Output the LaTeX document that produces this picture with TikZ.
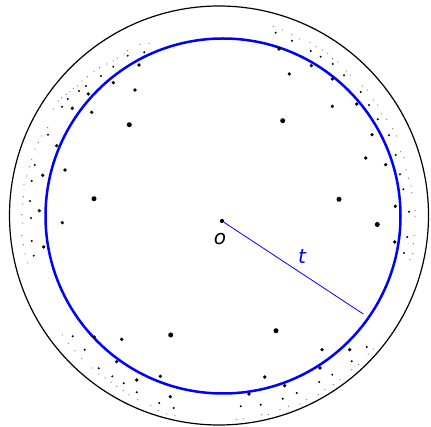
\documentclass[tikz,border=0pt]{standalone}
\usepackage{fontspec}
\setmainfont{DejaVu Sans}
\begin{document}
\begin{tikzpicture}[x=1pt,y=-1pt,
  outerc/.style={draw=black,line width=1.2pt},
  innerc/.style={draw=blue,line width=2.5pt},
  dotbig/.style={fill=black},
  dotmid/.style={fill=black},
  dotsmall/.style={fill=black},
  dottiny/.style={fill=black!55},
  centerdot/.style={circle,fill=black,inner sep=0pt,minimum size=4.2pt},
  radline/.style={draw=blue,line width=0.8pt},
  lbl/.style={font=\fontsize{20}{24}\selectfont\itshape,inner sep=0pt}]
\useasboundingbox (0,0) rectangle (431,427);
\draw[outerc] (219,215.5) circle[radius=209.5pt];
\draw[innerc] (223,216) circle[radius=177.5pt];
% large dots
\foreach \p in {(129.3,124.7),(94,198.7),(282.7,120.7),(339,199.3),(377.3,224.5),(276,330.7),(170.7,335)}
  \fill[dotbig] \p circle[radius=2.5pt];
% medium dots
\foreach \p in {(135,90),(113.3,82.7),(139,65),(91.7,112.3),(72.3,108.3),(88.3,94),(65,170),(56.7,145.7),(42.7,175.3),(39.3,210.7),
  (289.3,74),(332.3,106.3),(311.3,65.7),(332.3,79),(356.7,104),(372,134.7),(365.7,158),(385.7,164.7),(395.3,206.3),(279,49),
  (62.3,222.7),(43.7,247),(94.3,337),(121.7,339.3),(116.7,361.7),(160.3,376.3),(136.7,380),(170.3,396.7),
  (394.7,242),(322,349.7),(349.7,349.7),(264.7,377),(320,368),(284.7,385.7),(249,394)}
  \fill[dotmid] \p circle[radius=1.8pt];
% small dots
\foreach \p in {(144.3,52.3),(127.7,55.7),(113.3,66.7),(101,76),(86,86),(79,91),(67.7,99),(62,106.7),(48,134.7),(34.7,165),(31.7,181),(30,201),
  (275.7,32.7),(292,40.7),(310.7,51),(320.7,56.7),(332.7,64),(344,75.3),(360.7,92),(369,105),(377.7,119.3),(389,135.3),(395.7,155),(400,174.3),(403.3,189.3),(409,211.7),
  (31,218),(31.7,241),(33.7,255.7),(72.7,336.3),(84.7,349.7),(98.7,368.3),(112.3,376.3),(123.7,383.3),(136.7,392.3),(159.3,403),(173.7,408),
  (407.3,237),(404,253),(366.7,347),(351.7,361.3),(332.3,374.7),(319.3,382),(296.7,393),(282.7,398.7),(260.7,404.7),(240.7,406.3)}
  \fill[dotsmall] \p circle[radius=1.1pt];
% tiny dots
\foreach \p in {(149,43.3),(140,44.3),(127.7,50.7),(124,54),(117.3,58.3),(113.3,61),(106.7,64),(99.3,67.7),(94,71.7),(87.3,76.7),(82,81),(77.3,86),(73.3,88.3),(70,91.7),(66.7,94.3),(61.7,97.7),(58.3,101),(53.3,109),(47.7,127.7),(41.7,136),(38.3,142.7),(35,149),(31.7,159.3),(29.3,166.7),(26.7,176),(24,184.3),(23.3,196.7),(22.7,204),
  (273.3,26.7),(282.7,30),(291.7,34.3),(299.3,39),(310,42.7),(316,46.7),(322.3,50),(327.7,53.3),(332.7,58.7),(338,62),(346.7,71),(350.7,75),(362.7,86),(367.3,90),(373.3,100),(377.7,105),(381.7,114),(386.7,119.3),(392.7,128.7),(396.7,136),(400.7,151.7),(404,157.3),(406,170),(408.3,178.3),(411,186),(411.7,192.7),(415,210.7),
  (21.7,214.7),(22.7,223),(21.7,235.7),(23.3,244.7),(25,254),(27.7,263),(62.3,335),(68.3,343.7),(75,350.7),(81.7,358.7),(91.7,368),(98.7,374),(105,378),(111,382.3),(116.7,386.3),(123.3,390.3),(129,394.7),(137.7,399.7),(151,405.7),(158.3,410.7),(166.7,414),(175,415.7),
  (415,216.3),(414,235.7),(413.3,243.7),(412.7,253.7),(410,259.7),(373.3,349),(368.3,354),(358.3,364.7),(351.7,369.7),(340,379.7),(333.3,384.7),(325,389.7),(318.3,394.7),(306.7,399.7),(300,404),(288.3,406.3),(280,409.7),(268.3,414.7),(261.7,414.7),(243.3,419),(236.7,419.7)}
  \fill[dottiny] \p circle[radius=0.65pt];
% centre, radius and labels
\node[centerdot] (o) at (222,221) {};
\coordinate (tend) at (363.3,314);
\draw[radline] (o) -- (tend);
\node[lbl] (olabel) at (220,239) {o};
\node[lbl,text=blue] (tlabel) at (302,256) {t};
\end{tikzpicture}
\end{document}
